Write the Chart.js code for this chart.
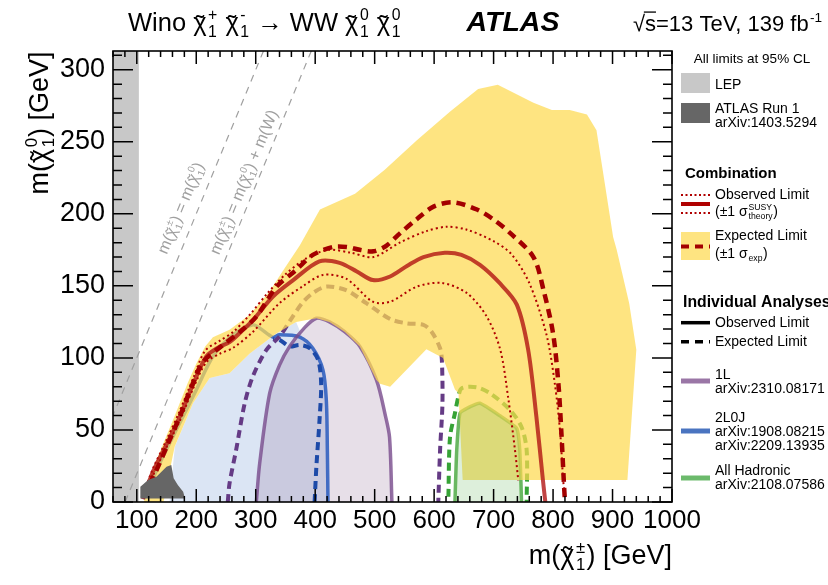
<!DOCTYPE html>
<html>
<head>
<meta charset="utf-8">
<script src="https://cdn.jsdelivr.net/npm/chart.js@4.4.0/dist/chart.umd.min.js"></script>
<style>
  html, body { margin: 0; padding: 0; background: #fff; }
  #wrap { width: 828px; height: 585px; }
</style>
</head>
<body>
<div id="wrap"><canvas id="chart" width="828" height="585"></canvas></div>
<script>
// axis ticks
const xTicks = [100, 200, 300, 400, 500, 600, 700, 800, 900, 1000];
const yTicks = [0, 50, 100, 150, 200, 250, 300];
const lepLimit = 103.5;
const wMass = 80.4;

// Combination: observed, +-1 sigma theory, expected, expected +-1 sigma band
const obsX = [110, 127, 150, 172, 195, 217, 236, 256, 275, 295, 329, 363, 407, 441, 470, 497, 526, 555, 582, 618, 646, 677, 710, 739, 758, 772, 783, 787];
const obsY = [2, 21, 40, 59, 82, 101, 107, 111, 118, 126, 142.6, 154, 167, 166, 160, 154, 156.5, 164, 170, 173, 171.5, 164.6, 152, 137, 106, 59, 15, 0];
const obsUpX = [110, 127, 150, 172, 195, 215, 240, 262, 290, 320, 350, 385, 422, 460, 498, 542, 587, 621, 655, 700, 730, 760, 789, 803, 812, 817, 819];
const obsUpY = [4, 23, 43, 63, 86, 105, 112, 118, 130, 145, 158, 169, 175, 173, 170, 180, 188, 191, 189, 181, 172, 152, 116, 82, 48, 15, 8];
const obsDnX = [112, 128, 150, 172, 195, 217, 240, 262, 295, 340, 380, 413, 452, 497, 526, 571, 613, 655, 688, 711, 725, 736, 741.5];
const obsDnY = [3, 19, 38, 56, 79, 97, 103, 107, 118, 138, 150, 157.6, 155, 139, 139, 149.5, 152, 145, 129, 106, 71, 36, 15];
const expX = [110, 133, 152, 172, 192, 211, 245, 273, 301, 335, 368, 396, 430, 453, 475, 498, 520, 543, 570, 599, 632, 672, 700, 728, 767, 784, 800, 809, 814, 818, 820];
const expY = [3, 22, 40, 59, 80, 97, 109, 118, 128.7, 149.5, 161, 171.5, 177, 177, 175, 174, 178, 186.6, 196, 205, 208, 203, 196, 186.6, 170, 147, 117, 82, 48, 15, 0];
const bandX = [112, 118, 140, 163, 186, 200, 215, 228, 256, 290, 323, 345, 374, 408, 467, 517, 571, 627, 674, 707, 767, 798, 828, 857, 873, 887, 901, 907, 928, 940, 925, 648, 641, 635, 615, 587, 526, 509, 503, 475, 450, 424, 402, 368, 334.6, 290, 256, 222.6, 194.5, 163.7, 152, 145];
const bandY = [0, 14, 36, 59, 83, 96, 108, 114.4, 119.5, 130, 146, 160, 178, 203, 214, 230.6, 251, 271, 286.6, 289.6, 277, 272, 272, 269, 258, 221, 184, 175, 138, 105.6, 15.3, 15.3, 75.5, 78, 100, 106, 80, 82, 84.7, 108, 118, 125, 127.5, 125, 117, 103, 89.4, 86, 68.5, 38.4, 15, 0];

// ATLAS Run 1
const run1X = [106, 106, 119, 133, 150, 158, 162, 169, 178, 181];
const run1Y = [2.5, 10.6, 15.3, 17.6, 24.5, 25.7, 16.4, 11.8, 7.2, 2.5];

// 1L
const oneLObsX = [301, 306.7, 323.5, 340, 357, 380, 402, 424, 450, 475, 503, 518, 525, 529];
const oneLObsY = [0, 27, 75.5, 95, 108, 120, 127.5, 125, 118, 108, 84.7, 60, 45, 0];
const oneLExpX = [253, 256, 267, 281.5, 295, 318, 340, 358, 378, 396, 418.7, 452, 486, 526, 554, 582, 596, 610, 613, 614, 610, 607];
const oneLExpY = [0, 13, 36, 68.5, 87, 105.6, 114.8, 126, 138, 145, 149.5, 147, 138, 127, 124, 123, 118, 106.7, 98.6, 68.5, 36, 0];

// 2L0J
const twoLObsX = [112, 127, 144, 172, 200, 228, 262, 295, 307, 329, 340, 374, 396, 413, 418.7, 420.5, 421.5];
const twoLObsY = [2, 16, 31.5, 54.6, 77.8, 101, 116, 123, 120.6, 114.4, 116, 114.4, 106.7, 91.7, 70.8, 35, 0];
const twoLExpX = [399, 402, 407.6, 410, 405, 390.8, 374, 357, 340, 329];
const twoLExpY = [0, 24.5, 59, 82.4, 98.6, 106.7, 109, 108, 112.5, 113];
const twoLFillX = [155, 164, 194.5, 222.6, 256, 290, 334.6, 368, 380, 396, 413, 418.7, 421.5];
const twoLFillY = [0, 38.4, 68.5, 86, 89.4, 103, 117, 125, 113, 106.7, 91.7, 70.8, 0];

// All Hadronic
const hadObsX = [635, 638, 643.5, 660, 677, 710, 739, 744, 747];
const hadObsY = [0, 36, 61.6, 66, 68.5, 60, 51, 36, 0];
const hadExpX = [624, 626.7, 635, 640.7, 646.4, 671.6, 694, 727.6, 747, 755.6, 755.6];
const hadExpY = [3.7, 45, 61.6, 73, 79, 79.6, 75.5, 63.9, 52, 36, 0];

const FONT = '"Liberation Sans", Arial, Helvetica, sans-serif';
const pts = (xs, ys) => xs.map((x, i) => ({ x: x, y: ys[i] }));

function curve(xs, ys, color, width, dash, order, tension) {
    return {
        data: pts(xs, ys), showLine: true, fill: false,
        borderColor: color, borderWidth: width, borderDash: dash || [],
        pointRadius: 0, pointHoverRadius: 0, tension: tension === undefined ? 0.3 : tension,
        order: order
    };
}
function area(xs, ys, color, order) {
    return {
        data: pts(xs, ys), showLine: true, fill: 'shape',
        backgroundColor: color, borderWidth: 0, borderColor: 'transparent',
        pointRadius: 0, pointHoverRadius: 0, tension: 0, order: order
    };
}

// diagonal kinematic lines y = x - offset
const diagonal = (off) => [{ x: off, y: 0 }, { x: 320 + off, y: 320 }];

const datasets = [
    area([60, lepLimit, lepLimit, 60], [0, 0, 320, 320], '#c8c8c8', 100),
    { data: diagonal(0), showLine: true, borderColor: '#a0a0a0', borderWidth: 1.2, borderDash: [7, 6], pointRadius: 0, order: 95 },
    { data: diagonal(wMass), showLine: true, borderColor: '#a0a0a0', borderWidth: 1.2, borderDash: [7, 6], pointRadius: 0, order: 95 },
    area(twoLFillX, twoLFillY, 'rgba(75,125,200,0.2)', 90),
    area(oneLObsX, oneLObsY, 'rgba(120,80,130,0.18)', 89),
    curve(twoLObsX, twoLObsY, 'rgba(40,90,190,0.85)', 3.5, [], 70),
    curve(twoLExpX, twoLExpY, '#1d4aa8', 4, [8, 5], 69),
    curve(oneLObsX, oneLObsY, 'rgba(120,75,140,0.8)', 3.5, [], 68),
    curve(oneLExpX, oneLExpY, '#653b85', 4, [8, 5], 67),
    curve(hadObsX, hadObsY, 'rgba(80,170,70,0.85)', 3.5, [], 66, 0.15),
    curve(hadExpX, hadExpY, '#36a336', 4, [8, 5], 65),
    area(bandX, bandY, 'rgba(254,218,80,0.72)', 60),
    area(hadObsX, hadObsY, 'rgba(100,180,90,0.22)', 55),
    curve(obsUpX, obsUpY, '#b00000', 2, [2, 3], 40),
    curve(obsDnX, obsDnY, '#b00000', 2, [2, 3], 39),
    curve(obsX, obsY, 'rgba(175,15,15,0.78)', 4, [], 38),
    curve(expX, expY, '#a30000', 4.5, [9, 6], 37),
    area(run1X, run1Y, '#666666', 10)
];

// text with super/subscripts; "tilde" puts a tilde over the segment's last glyph
function segWidth(ctx, s, size, style) {
    ctx.font = `${style} ${size}px ${FONT}`;
    let w = ctx.measureText(s.t).width;
    if (s.sup || s.sub) {
        ctx.font = `${style} ${size * 0.62}px ${FONT}`;
        w += Math.max(s.sup ? ctx.measureText(s.sup).width : 0, s.sub ? ctx.measureText(s.sub).width : 0) + size * 0.1;
    }
    return w;
}
function drawRich(ctx, segs, x, y, size, align, style, color) {
    style = style || '';
    const w = segs.reduce((acc, s) => acc + segWidth(ctx, s, size, style), 0);
    let cx = align === 'center' ? x - w / 2 : align === 'right' ? x - w : x;
    ctx.fillStyle = color || '#000';
    ctx.strokeStyle = color || '#000';
    ctx.textAlign = 'left';
    ctx.textBaseline = 'alphabetic';
    segs.forEach(s => {
        ctx.font = `${style} ${size}px ${FONT}`;
        ctx.fillText(s.t, cx, y);
        const tw = ctx.measureText(s.t).width;
        if (s.tilde) {
            const tx = cx + tw - ctx.measureText('\u03C7').width / 2;
            ctx.textAlign = 'center';
            ctx.fillText('\u02DC', tx, y + size * 0.06);
            ctx.textAlign = 'left';
        }
        if (s.over) {
            ctx.lineWidth = 1.3;
            ctx.beginPath();
            ctx.moveTo(cx - size * 0.05, y - size * 0.86);
            ctx.lineTo(cx + tw, y - size * 0.86);
            ctx.stroke();
        }
        cx += tw;
        if (s.sup || s.sub) {
            ctx.font = `${style} ${size * 0.62}px ${FONT}`;
            if (s.sup) ctx.fillText(s.sup, cx + size * 0.06, y - size * 0.42);
            if (s.sub) ctx.fillText(s.sub, cx + size * 0.06, y + size * 0.24);
            cx += Math.max(s.sup ? ctx.measureText(s.sup).width : 0, s.sub ? ctx.measureText(s.sub).width : 0) + size * 0.1;
        }
    });
}
const CHI = '\u03C7';

const frameAndTicks = {
    id: 'frameAndTicks',
    afterDatasetsDraw(chart) {
        const ctx = chart.ctx, a = chart.chartArea;
        const xs = chart.scales.x, ys = chart.scales.y;
        ctx.save();
        ctx.strokeStyle = '#000';
        ctx.lineWidth = 1.5;
        ctx.beginPath();
        for (let v = 60; v <= 1000; v += 20) {
            const p = xs.getPixelForValue(v);
            const len = v % 100 === 0 ? 13 : 6;
            ctx.moveTo(p, a.bottom); ctx.lineTo(p, a.bottom - len);
            ctx.moveTo(p, a.top); ctx.lineTo(p, a.top + len);
        }
        for (let v = 0; v <= 310; v += 10) {
            const p = ys.getPixelForValue(v);
            const len = v % 50 === 0 ? 20 : 9;
            ctx.moveTo(a.left, p); ctx.lineTo(a.left + len, p);
            ctx.moveTo(a.right, p); ctx.lineTo(a.right - len, p);
        }
        ctx.stroke();
        ctx.lineWidth = 1.6;
        ctx.strokeRect(a.left, a.top, a.right - a.left, a.bottom - a.top);

        // labels along kinematic lines
        const ang = Math.atan2(ys.getPixelForValue(0) - ys.getPixelForValue(100), xs.getPixelForValue(200) - xs.getPixelForValue(100));
        ctx.save();
        ctx.translate(xs.getPixelForValue(174), ys.getPixelForValue(204));
        ctx.rotate(-ang);
        drawRich(ctx, [{ t: 'm(' + CHI, tilde: true, sup: '\u00B1', sub: '1' }, { t: ') = m(' + CHI, tilde: true, sup: '0', sub: '1' }, { t: ')' }], 0, 5, 16, 'center', '', '#a0a0a0');
        ctx.restore();
        ctx.save();
        ctx.translate(xs.getPixelForValue(280), ys.getPixelForValue(222));
        ctx.rotate(-ang);
        drawRich(ctx, [{ t: 'm(' + CHI, tilde: true, sup: '\u00B1', sub: '1' }, { t: ') = m(' + CHI, tilde: true, sup: '0', sub: '1' }, { t: ') + m(W)' }], 0, 5, 16, 'center', '', '#a0a0a0');
        ctx.restore();
        ctx.restore();
    },
    afterDraw(chart) {
        const ctx = chart.ctx;
        ctx.save();
        // header
        drawRich(ctx, [{ t: 'Wino ' }, { t: CHI, tilde: true, sup: '+', sub: '1' }, { t: ' ' }, { t: CHI, tilde: true, sup: '-', sub: '1' },
            { t: ' \u2192 WW ' }, { t: CHI, tilde: true, sup: '0', sub: '1' }, { t: ' ' }, { t: CHI, tilde: true, sup: '0', sub: '1' }], 128, 31, 25.5, 'left');
        drawRich(ctx, [{ t: 'ATLAS' }], 513, 31, 28.5, 'center', 'italic bold');
        drawRich(ctx, [{ t: '\u221A' }, { t: 's', over: true }, { t: '=13 TeV, 139 fb', sup: '-1' }], 823, 31, 22, 'right');

        // axis titles
        drawRich(ctx, [{ t: 'm(' + CHI, tilde: true, sup: '\u00B1', sub: '1' }, { t: ') [GeV]' }], 672, 564, 27, 'right');
        ctx.save();
        ctx.translate(48, 123);
        ctx.rotate(-Math.PI / 2);
        drawRich(ctx, [{ t: 'm(' + CHI, tilde: true, sup: '0', sub: '1' }, { t: ') [GeV]' }], 0, 0, 27, 'center');
        ctx.restore();

        // legend
        const L = 681, W = 29, TX = 715;
        drawRich(ctx, [{ t: 'All limits at 95% CL' }], 752, 63, 13.5, 'center');
        ctx.fillStyle = '#c8c8c8'; ctx.fillRect(L, 73, W, 20);
        ctx.fillStyle = '#666666'; ctx.fillRect(L, 103, W, 20);
        drawRich(ctx, [{ t: 'LEP' }], TX, 89, 14, 'left');
        drawRich(ctx, [{ t: 'ATLAS Run 1' }], TX, 113, 14, 'left');
        drawRich(ctx, [{ t: 'arXiv:1403.5294' }], TX, 127, 14, 'left');

        drawRich(ctx, [{ t: 'Combination' }], 685, 178, 15, 'left', 'bold');
        const seg = (y, color, width, dash) => {
            ctx.save();
            ctx.strokeStyle = color; ctx.lineWidth = width; ctx.setLineDash(dash);
            ctx.beginPath(); ctx.moveTo(L, y); ctx.lineTo(L + W, y); ctx.stroke();
            ctx.restore();
        };
        seg(195, '#b00000', 1.8, [2, 2.5]);
        seg(204, '#b00000', 4, []);
        seg(213, '#b00000', 1.8, [2, 2.5]);
        drawRich(ctx, [{ t: 'Observed Limit' }], TX, 199, 14, 'left');
        drawRich(ctx, [{ t: '(\u00B11 \u03C3', sup: 'SUSY', sub: 'theory' }, { t: ')' }], TX, 216, 14, 'left');
        ctx.fillStyle = '#fee481'; ctx.fillRect(L, 232, W, 28);
        seg(246.5, '#a30000', 4, [8, 6]);
        drawRich(ctx, [{ t: 'Expected Limit' }], TX, 240, 14, 'left');
        drawRich(ctx, [{ t: '(\u00B11 \u03C3', sub: 'exp' }, { t: ')' }], TX, 258, 14, 'left');

        drawRich(ctx, [{ t: 'Individual Analyses' }], 683, 307, 15.8, 'left', 'bold');
        seg(322.7, '#000', 3.5, []);
        seg(341.7, '#000', 3.5, [8, 6]);
        drawRich(ctx, [{ t: 'Observed Limit' }], TX, 327, 14, 'left');
        drawRich(ctx, [{ t: 'Expected Limit' }], TX, 346, 14, 'left');

        seg(381, '#9a76a6', 5, []);
        drawRich(ctx, [{ t: '1L' }], TX, 379, 14, 'left');
        drawRich(ctx, [{ t: 'arXiv:2310.08171' }], TX, 393, 14, 'left');
        seg(431, '#4a74c0', 5, []);
        drawRich(ctx, [{ t: '2L0J' }], TX, 422, 14, 'left');
        drawRich(ctx, [{ t: 'arXiv:1908.08215' }], TX, 436, 14, 'left');
        drawRich(ctx, [{ t: 'arXiv:2209.13935' }], TX, 450, 14, 'left');
        seg(478, '#6cba6c', 5, []);
        drawRich(ctx, [{ t: 'All Hadronic' }], TX, 475, 14, 'left');
        drawRich(ctx, [{ t: 'arXiv:2108.07586' }], TX, 489, 14, 'left');
        ctx.restore();
    }
};

new Chart(document.getElementById('chart'), {
    type: 'scatter',
    data: { datasets: datasets },
    options: {
        responsive: false,
        animation: false,
        devicePixelRatio: 1,
        events: [],
        layout: { padding: { left: 0, right: 156, top: 51, bottom: 0 } },
        plugins: { legend: { display: false }, tooltip: { enabled: false } },
        scales: {
            x: {
                type: 'linear', min: 60, max: 1000,
                grid: { display: false }, border: { display: false },
                afterBuildTicks: (s) => { s.ticks = xTicks.map(v => ({ value: v })); },
                afterFit: (s) => { s.height = 83; },
                ticks: { autoSkip: false, maxRotation: 0, padding: -5, color: '#000', callback: (v) => String(v), font: { family: FONT, size: 26 } }
            },
            y: {
                type: 'linear', min: 0, max: 313,
                grid: { display: false }, border: { display: false },
                afterBuildTicks: (s) => { s.ticks = yTicks.map(v => ({ value: v })); },
                afterFit: (s) => { s.width = 113; },
                ticks: { autoSkip: false, padding: 0, color: '#000', callback: (v) => String(v), font: { family: FONT, size: 27 } }
            }
        }
    },
    plugins: [frameAndTicks]
});
</script>
</body>
</html>
